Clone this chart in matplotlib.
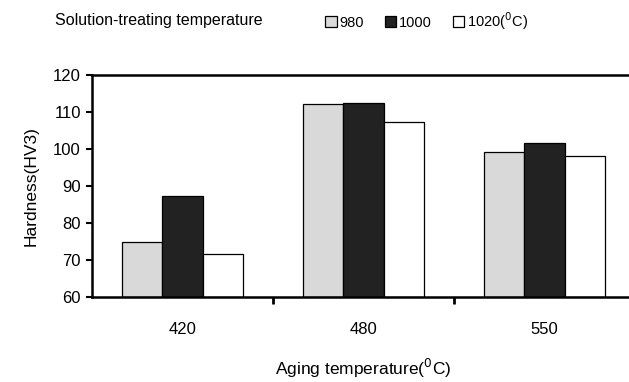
import numpy as np
import matplotlib.pyplot as plt
from matplotlib.patches import Patch

plt.rcParams['font.family'] = ['Liberation Sans', 'DejaVu Sans']

aging = ['420', '480', '550']
series = ['980', '1000', '1020($^0$C)']
hv_980 = [75.0, 112.2, 99.3]
hv_1000 = [87.2, 112.5, 101.6]
hv_1020 = [71.5, 107.2, 98.0]
colors = ['#d9d9d9', '#222222', '#ffffff']

fig = plt.figure(figsize=(6.29, 3.82), dpi=100)
ax = fig.add_axes([92 / 629, 1 - 297 / 382, 543 / 629, 222 / 382])

x = np.arange(len(aging))
width = 0.224
for i, (vals, c) in enumerate(zip([hv_980, hv_1000, hv_1020], colors)):
    ax.bar(x + (i - 1) * width, np.array(vals) - 60, width, bottom=60,
           color=c, edgecolor='black', linewidth=0.9)

ax.set_xlim(-0.5, 2.5)
ax.set_ylim(60, 120)
ax.set_yticks(np.arange(60, 121, 10))
ax.set_xticks(x)
ax.set_xticklabels(aging)
ax.set_xticks([0.5, 1.5], minor=True)
ax.tick_params(axis='x', which='major', length=0, pad=18, labelsize=12)
ax.tick_params(axis='x', which='minor', length=5, width=2, direction='out')
ax.tick_params(axis='y', length=4, width=1.5, direction='out', labelsize=12, pad=4)
for s in ['left', 'top', 'bottom']:
    ax.spines[s].set_linewidth(1.8)
ax.spines['right'].set_visible(False)

ax.set_ylabel('Hardness(HV3)', fontsize=12.5, labelpad=10)
ax.set_xlabel('Aging temperature($^0$C)', fontsize=12.5, labelpad=14)

fig.text(55 / 629, 1 - 21 / 382, 'Solution-treating temperature', fontsize=11.5,
         va='center', ha='left')
handles = [Patch(facecolor=c, edgecolor='black', linewidth=0.9) for c in colors]
fig.legend(handles, series, loc='center left', bbox_to_anchor=(318 / 629, 1 - 21 / 382),
           ncol=3, frameon=False, fontsize=10.5, handlelength=0.8, handleheight=0.8,
           handletextpad=0.2, columnspacing=1.4, borderpad=0)

fig.savefig('out.png', dpi=100)
